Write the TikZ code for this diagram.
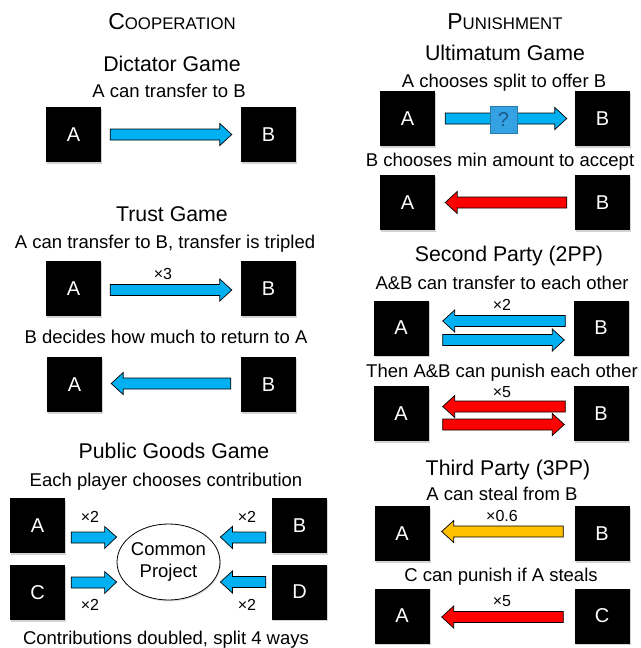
\documentclass[tikz,border=0pt]{standalone}
\usepackage{fontspec}
\setmainfont{Liberation Sans}
\usetikzlibrary{calc,shapes.geometric,shadows}
\definecolor{arrblue}{HTML}{00B0F0}
\definecolor{arrred}{HTML}{FF0000}
\definecolor{arryellow}{HTML}{FFC000}
\definecolor{qblue}{HTML}{35A3E3}
\definecolor{qmark}{HTML}{1F5A8A}
\newcommand{\headcaps}[2]{{\fontsize{23}{26}\selectfont #1}{\fontsize{16.8}{20}\selectfont #2}}

\begin{document}
\begin{tikzpicture}[x=1pt,y=-1pt,
    player/.style={
      fill=black,
      text=white,
      minimum size=55pt,
      inner sep=0pt,
      font=\fontsize{20}{24}\selectfont,
      drop shadow={shadow xshift=1pt,shadow yshift=-1.5pt,opacity=0.35}
    },
    title/.style={anchor=base,inner sep=0pt,font=\fontsize{21.3}{25}\selectfont},
    sub/.style={anchor=base,inner sep=0pt,font=\fontsize{18.5}{22}\selectfont},
    mult/.style={anchor=base,inner sep=0pt,font=\fontsize{16}{19}\selectfont},
    barr/.style={
      draw=black,
      fill=#1,
      line width=0.7pt,
      line join=miter,
      to path={let \p1=(\tikztostart), \p2=(\tikztotarget),
        \p3=($(\p2)!12pt!(\p1)$) in
        (\x1,\y1+5.5pt) -- (\x3,\y1+5.5pt) -- (\x3,\y1+11pt) -- (\p2)
        -- (\x3,\y1-11pt) -- (\x3,\y1-5.5pt) -- (\x1,\y1-5.5pt) -- cycle}
    }
    ]
    \useasboundingbox (0,0) rectangle (640,648);
    % cooperation
    \node[anchor=base,inner sep=0pt] (coop) at (172,29) {\headcaps{C}{OOPERATION}};
    \node[title] (dictT) at (172,71) {Dictator Game};
    \node[sub] (dictS) at (169,97) {A can transfer to B};
    \node[player] (da) at (73.5,134.5) {A};
    \node[player] (db) at (268.5,134.5) {B};
    \node[title] (trustT) at (172,221) {Trust Game};
    \node[sub] (trustS) at (165,248) {A can transfer to B, transfer is tripled};
    \node[player] (ta1) at (73.5,288.5) {A};
    \node[player] (tb1) at (268.5,288.5) {B};
    \node[mult] (tx) at (163,279.5) {×3};
    \node[sub] (trustR) at (166,343) {B decides how much to return to A};
    \node[player] (ta2) at (74.5,384.5) {A};
    \node[player] (tb2) at (268.5,384.5) {B};
    \node[title] (pubT) at (174,458) {Public Goods Game};
    \node[sub] (pubS) at (166,486) {Each player chooses contribution};
    \node[player] (pa) at (37.5,525.5) {A};
    \node[player] (pb) at (299.5,525.5) {B};
    \node[player] (pc) at (37.5,592.5) {C};
    \node[player] (pd) at (299.5,592) {D};
    \node[ellipse,draw,line width=0.8pt,fill=white,minimum width=103pt,minimum height=76pt,
      inner xsep=-2pt,inner ysep=0pt,align=center,font=\fontsize{18.5}{21.5}\selectfont,
      drop shadow={shadow xshift=1pt,shadow yshift=-1.5pt,opacity=0.25}] (proj) at (168.5,562) {Common\\Project};
    \node[mult] (px1) at (90,522.5) {×2};
    \node[mult] (px2) at (247,522.5) {×2};
    \node[mult] (px3) at (90,610) {×2};
    \node[mult] (px4) at (247,610) {×2};
    \node[sub] (pubR) at (166,644) {Contributions doubled, split 4 ways};
    % punishment
    \node[anchor=base,inner sep=0pt] (pun) at (505,29) {\headcaps{P}{UNISHMENT}};
    \node[title] (ultT) at (505,60) {Ultimatum Game};
    \node[sub] (ultS) at (504,87) {A chooses split to offer B};
    \node[player] (ua1) at (407.5,118.5) {A};
    \node[player] (ub1) at (602.5,118.5) {B};
    \node[sub] (ultR) at (500,166) {B chooses min amount to accept};
    \node[player] (ua2) at (407.5,202.5) {A};
    \node[player] (ub2) at (602.5,202.5) {B};
    \node[title] (secT) at (509,261) {Second Party (2PP)};
    \node[sub] (secS) at (502,289) {A\&B can transfer to each other};
    \node[player] (sa1) at (401,328) {A};
    \node[player] (sb1) at (601,328) {B};
    \node[mult] (sx1) at (502,310.5) {×2};
    \node[sub] (secR) at (502,377) {Then A\&B can punish each other};
    \node[player] (sa2) at (401,413.5) {A};
    \node[player] (sb2) at (601,413.5) {B};
    \node[mult] (sx2) at (502,397.5) {×5};
    \node[title] (thiT) at (508,475) {Third Party (3PP)};
    \node[sub] (thiS) at (502,500) {A can steal from B};
    \node[player] (ha1) at (402,533.5) {A};
    \node[player] (hb1) at (602,533.5) {B};
    \node[mult] (hx1) at (502,521.5) {×0.6};
    \node[sub] (thiR) at (501,581.5) {C can punish if A steals};
    \node[player] (ha2) at (402,616) {A};
    \node[player] (hc2) at (602,616) {C};
    \node[mult] (hx2) at (502,606.5) {×5};
    % arrows
    \path[barr=arrblue] ([xshift=9pt]da.east) to ([xshift=-9pt]db.west);
    \path[barr=arrblue] ([shift={(9,1.5)}]ta1.east) to ([shift={(-9,1.5)}]tb1.west);
    \path[barr=arrblue] ([shift={(-10,-1)}]tb2.west) to ([shift={(9,-1)}]ta2.east);
    \path[barr=arrblue] ([shift={(6,12)}]pa.east) to ([shift={(0,-25)}]proj.west);
    \path[barr=arrblue] ([shift={(6,-10)}]pc.east) to ([shift={(0,20)}]proj.west);
    \path[barr=arrblue] ([shift={(-6,12)}]pb.west) to ([shift={(0,-25)}]proj.east);
    \path[barr=arrblue] ([shift={(-6,-10)}]pd.west) to ([shift={(0,20)}]proj.east);
    \path[barr=arrblue] ([xshift=10pt]ua1.east) to ([xshift=-8pt]ub1.west);
    \node[fill=qblue,draw=qblue!75!black,line width=0.4pt,minimum size=27pt,inner sep=0pt,
      text=qmark,font=\fontsize{20}{24}\selectfont] (q) at (503.5,119.5) {?};
    \path[barr=arrred] ([xshift=-8pt]ub2.west) to ([xshift=10pt]ua2.east);
    \path[barr=arrblue] ([shift={(-8,-7)}]sb1.west) to ([shift={(14,-7)}]sa1.east);
    \path[barr=arrblue] ([shift={(14,12)}]sa1.east) to ([shift={(-9,12)}]sb1.west);
    \path[barr=arrred] ([shift={(-8,-7)}]sb2.west) to ([shift={(14,-7)}]sa2.east);
    \path[barr=arrred] ([shift={(14,11)}]sa2.east) to ([shift={(-9,11)}]sb2.west);
    \path[barr=arryellow] ([shift={(-11,-2)}]hb1.west) to ([shift={(12,-2)}]ha1.east);
    \path[barr=arrred] ([shift={(-11,1)}]hc2.west) to ([shift={(12,1)}]ha2.east);
  \end{tikzpicture}
\end{document}
